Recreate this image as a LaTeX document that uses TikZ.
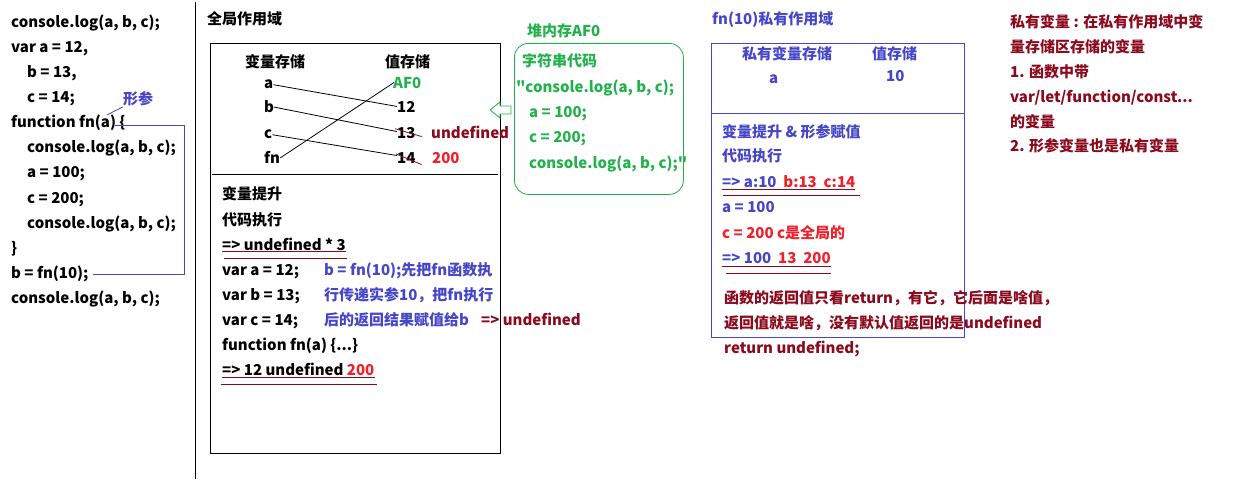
\documentclass[tikz,border=0pt]{standalone}
\usepackage{fontspec}
\setmainfont{Noto Sans CJK SC}[Ligatures=TeXOff]
\usetikzlibrary{calc}
\definecolor{dred}{HTML}{8B0A1E}
\definecolor{bblue}{HTML}{4646C8}
\definecolor{rred}{HTML}{F0202A}
\definecolor{ggreen}{HTML}{22B14C}
\tikzset{
  txt/.style={anchor=base west, inner sep=0pt, font=\bfseries\fontsize{15}{17}\selectfont},
  thin/.style={line width=0.8pt},
  ul/.style={draw=dred, line width=0.9pt},
}
\begin{document}
\begin{tikzpicture}[x=1pt,y=-1pt]
\useasboundingbox[fill=white] (0,0) rectangle (1249,481);
% left code
\node[txt] (c1) at (11,28) {console.log(a, b, c);};
\node[txt] (c2) at (11,53) {var a = 12,};
\node[txt] (c3) at (27,78) {b = 13,};
\node[txt] (c4) at (27,103) {c = 14;};
\node[txt] (c5) at (11,128) {function fn(a) \{};
\node[txt] (c6) at (27,153) {console.log(a, b, c);};
\node[txt] (c7) at (27,178) {a = 100;};
\node[txt] (c8) at (27,203) {c = 200;};
\node[txt] (c9) at (27,228) {console.log(a, b, c);};
\node[txt] (c10) at (11,253) {\}};
\node[txt] (c11) at (11,278) {b = fn(10);};
\node[txt] (c12) at (11,303) {console.log(a, b, c);};
\node[txt, text=bblue] (xc) at (123,105) {形参};
\draw[bblue, thin] (107,115) -- (xc.south west);
\coordinate (p1) at (115,125);
\coordinate (p2) at (184,125);
\coordinate (p3) at (184,274);
\coordinate (p4) at (93,274);
\draw[bblue, thin] (p1) -- (p2) -- (p3) -- (p4);
\draw[black, thin] (195,2) -- (195,479);
% global scope
\node[txt] (gt) at (207,25) {全局作用域};
\node[draw, thin, minimum width=290, minimum height=410, anchor=north west, inner sep=0] (gbox) at (210,43) {};
\draw[thin] (212,174) -- (498,174);
\node[txt] (gh1) at (245,68) {变量存储};
\node[txt] (gh2) at (385,68) {值存储};
\node[txt] (va) at (264,89) {a};
\node[txt] (vb) at (264,113) {b};
\node[txt] (vc) at (264,139) {c};
\node[txt] (vfn) at (264,164) {fn};
\node[txt, text=ggreen] (vaf) at (393,89) {AF0};
\node[txt] (v12) at (397,113) {12};
\node[txt] (v13) at (397,139) {13};
\node[txt] (v14) at (397,164) {14};
\node[txt, text=dred] (vu) at (431,139) {undefined};
\node[txt, text=rred] (v200) at (432,164) {200};
\draw[thin] (va.east) -- ($(v12.west)+(0,-1)$);
\draw[thin] (vb.east) -- ($(v13.west)+(0,-2)$);
\draw[thin] (vc.east) -- ($(v14.west)+(0,-3)$);
\draw[thin] (vfn.east) -- ($(vaf.west)+(1,-1)$);
\draw[dred, thin] ($(v13.north west)+(-2,1)$) -- ($(v13.east)+(6,3)$);
\draw[dred, thin] ($(v14.north west)+(-1,1)$) -- ($(v14.east)+(6,6)$);
\node[txt] (g1) at (222,200) {变量提升};
\node[txt] (g2) at (222,225) {代码执行};
\node[txt] (g3) at (222,250) {=> undefined * 3};
\draw[ul] ($(g3.base west)+(0,1)$) -- ($(g3.base east)+(0,1)$);
\draw[ul] ($(g3.base west)+(2,8)$) -- ($(g3.base east)+(1,8)$);
\node[txt] (g4) at (222,275) {var a = 12;};
\node[txt] (g5) at (222,300) {var b = 13;};
\node[txt] (g6) at (222,325) {var c = 14;};
\node[txt] (g7) at (222,350) {function fn(a) \{...\}};
\node[txt] (g8) at (222,375) {=> 12 undefined \textcolor{rred}{200}};
\draw[ul] ($(g8.base west)+(0,2)$) -- ($(g8.base east)+(0,2)$);
\draw[ul] ($(g8.base west)+(-1,9)$) -- ($(g8.base east)+(2,9)$);
\node[txt, text=bblue] (b1) at (324,275) {b = fn(10);先把fn函数执};
\node[txt, text=bblue] (b2) at (324,300) {行传递实参10，把fn执行};
\node[txt, text=bblue] (b3) at (324,325) {后的返回结果赋值给b};
\node[txt, text=dred] (b4) at (481,325) {=> undefined};
% heap
\node[txt, text=ggreen] (ht) at (527,37) {堆内存AF0};
\node[draw=ggreen, thin, rounded corners=14, minimum width=169, minimum height=151, anchor=north west, inner sep=0] (hbox) at (514,43) {};
\node[txt, text=ggreen] (h1) at (522,67) {字符串代码};
\node[txt, text=ggreen] (h2) at (516,93) {"console.log(a, b, c);};
\node[txt, text=ggreen] (h3) at (529,118) {a = 100;};
\node[txt, text=ggreen] (h4) at (529,143) {c = 200;};
\node[txt, text=ggreen] (h5) at (529,168) {console.log(a, b, c);"};
\draw[ggreen, thin, fill=white] (490,110) -- (500,102) -- (500,106) -- (511,106) -- (511,114) -- (500,114) -- (500,118) -- cycle;
% private scope
\node[txt, text=bblue] (pt) at (712,25) {fn(10)私有作用域};
\node[draw=bblue, thin, minimum width=253, minimum height=294, anchor=north west, inner sep=0] (pbox) at (711,43) {};
\draw[bblue, thin] (711,113) -- (964,113);
\node[txt, text=bblue] (ph1) at (742,60) {私有变量存储};
\node[txt, text=bblue] (ph2) at (872,60) {值存储};
\node[txt, text=bblue] (pa) at (769,84) {a};
\node[txt, text=bblue] (p10) at (886,82) {10};
\node[txt, text=bblue] (q1) at (722,138) {变量提升 \& 形参赋值};
\node[txt, text=bblue] (q2) at (722,162) {代码执行};
\node[txt, text=bblue] (q3) at (722,188) {=> a:10 \ \textcolor{rred}{b:13 \ c:14}};
\draw[ul] ($(q3.base west)+(0,1)$) -- ($(q3.base east)+(0,1)$);
\draw[ul] ($(q3.base west)+(1,7)$) -- ($(q3.base east)+(5,7)$);
\node[txt, text=bblue] (q4) at (722,212) {a = 100};
\node[txt, text=rred] (q5) at (722,238) {c = 200 c是全局的};
\node[txt, text=bblue] (q6) at (722,263) {=> 100 \ \textcolor{rred}{13 \ 200}};
\draw[ul] ($(q6.base west)+(0,3)$) -- ($(q6.base east)+(0,3)$);
\draw[ul] ($(q6.base west)+(4,10)$) -- ($(q6.base east)+(0,10)$);
\node[txt, text=dred] (r1) at (724,303) {函数的返回值只看return，有它，它后面是啥值，};
\node[txt, text=dred] (r2) at (724,328) {返回值就是啥，没有默认值返回的是undefined};
\node[txt, text=dred] (r3) at (724,353) {return undefined;};
% note
\node[txt, text=dred] (n1) at (1010,28) {私有变量 : 在私有作用域中变};
\node[txt, text=dred] (n2) at (1010,53) {量存储区存储的变量};
\node[txt, text=dred] (n3) at (1010,78) {1. 函数中带};
\node[txt, text=dred] (n4) at (1010,103) {var/let/function/const...};
\node[txt, text=dred] (n5) at (1010,128) {的变量};
\node[txt, text=dred] (n6) at (1010,152) {2. 形参变量也是私有变量};
\end{tikzpicture}
\end{document}
